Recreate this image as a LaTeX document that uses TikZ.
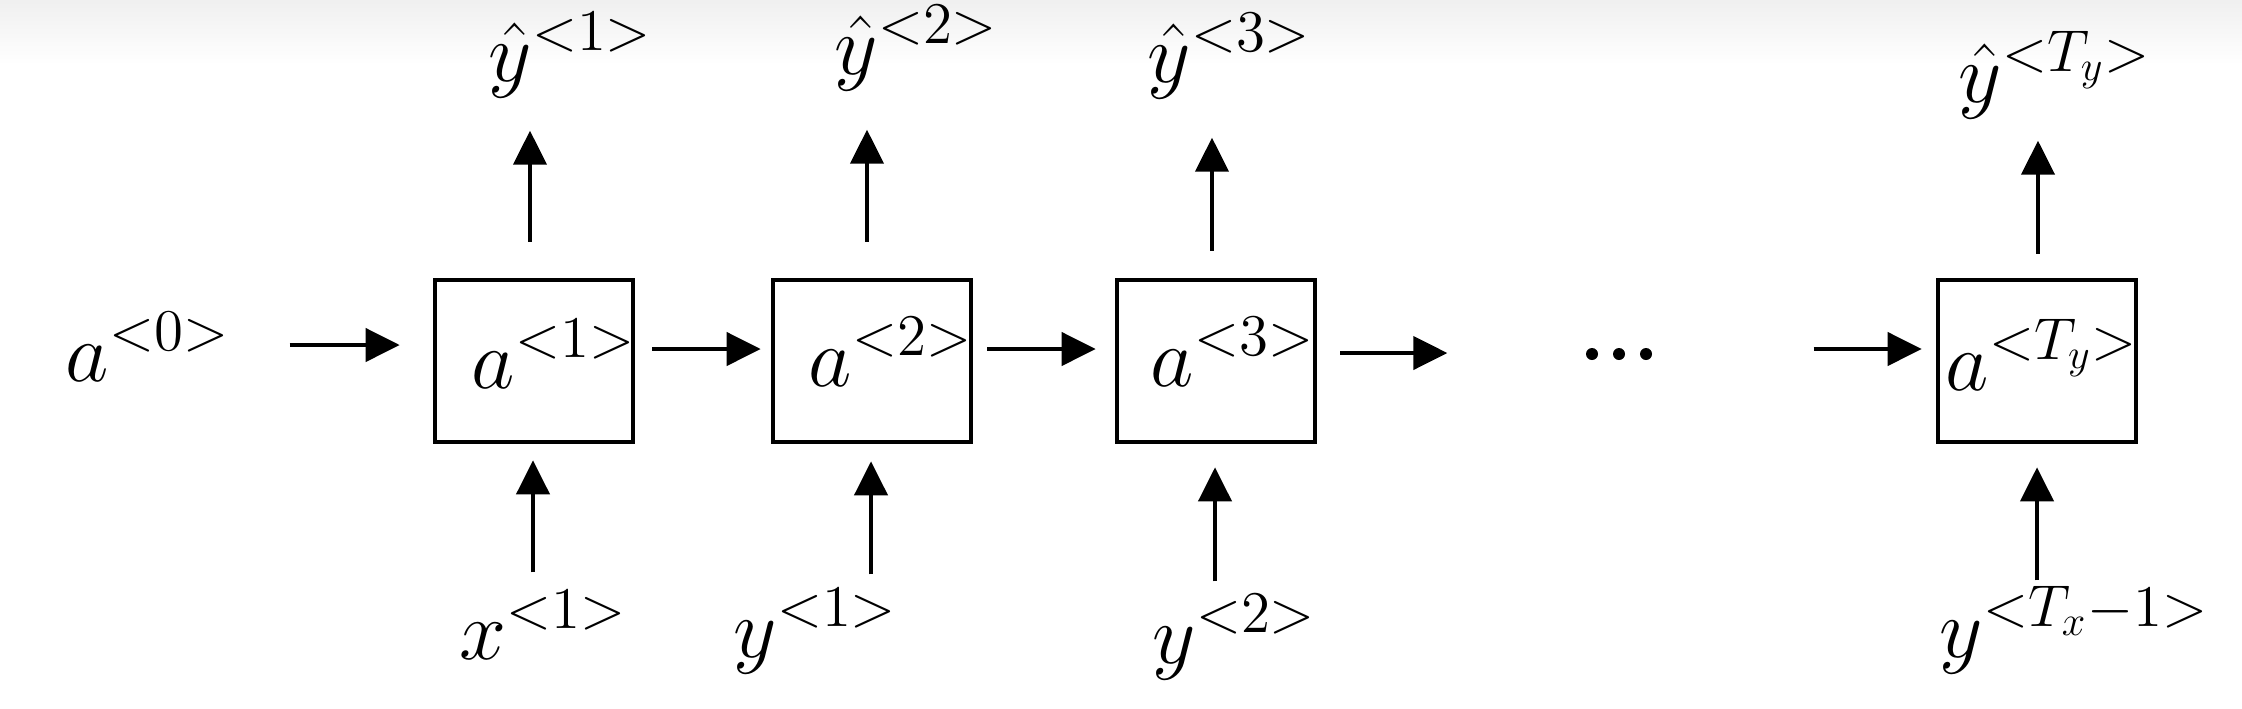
\RequirePackage{fix-cm}
\documentclass[tikz,border=0pt]{standalone}
\usetikzlibrary{arrows.meta}
\begin{document}
\begin{tikzpicture}[x=0.01cm,y=-0.01cm,
  cell/.style={draw, line width=1.3pt, minimum width=1.98cm, minimum height=1.62cm, inner sep=0pt},
  lbl/.style={font=\fontsize{24}{28}\selectfont, inner sep=0pt, anchor=base west},
  arr/.style={line width=1.2pt, -{Triangle[width=0.33cm,length=0.34cm]}},
  dotn/.style={circle, fill=black, minimum size=0.12cm, inner sep=0pt}]
\useasboundingbox (0,0) rectangle (2242,708);
\fill[white] (0,0) rectangle (2242,708);
\shade[top color=gray!12, bottom color=white] (0,0) rectangle (2242,65);
% boxes
\node[cell] (b1) at (534,361) {};
\node[cell] (b2) at (872,361) {};
\node[cell] (b3) at (1216,361) {};
\node[cell] (b4) at (2037,361) {};
% texts
\node[lbl] (a0) at (65,381) {$a^{<0>}$};
\node[lbl] (t1) at (471,388) {$a^{<1>}$};
\node[lbl] (t2) at (808,386) {$a^{<2>}$};
\node[lbl] (t3) at (1150,386) {$a^{<3>}$};
\node[lbl] (t4) at (1945,390) {$a^{<T_y>}$};
\node[lbl] (o1) at (488,81) {$\hat{y}^{<1>}$};
\node[lbl] (o2) at (834,74) {$\hat{y}^{<2>}$};
\node[lbl] (o3) at (1147,82) {$\hat{y}^{<3>}$};
\node[lbl] (o4) at (1958,102) {$\hat{y}^{<T_y>}$};
\node[lbl] (i1) at (459,659) {$x^{<1>}$};
\node[lbl] (i2) at (733,657) {$y^{<1>}$};
\node[lbl] (i3) at (1152,663) {$y^{<2>}$};
\node[lbl] (i4) at (1939,657) {$y^{<T_x-1>}$};
% dots
\node[dotn] (d1) at (1592,354) {};
\node[dotn] (d2) at (1619,354) {};
\node[dotn] (d3) at (1646,354) {};
% up arrows to outputs
\draw[arr] ([shift={(-4,-36)}]b1.north) -- ([shift={(-4,-147)}]b1.north);
\draw[arr] ([shift={(-5,-36)}]b2.north) -- ([shift={(-5,-148)}]b2.north);
\draw[arr] ([shift={(-4,-27)}]b3.north) -- ([shift={(-4,-140)}]b3.north);
\draw[arr] ([shift={(1,-24)}]b4.north) -- ([shift={(1,-137)}]b4.north);
% inputs from below
\draw[arr] ([shift={(-1,128)}]b1.south) -- ([shift={(-1,16)}]b1.south);
\draw[arr] ([shift={(-1,130)}]b2.south) -- ([shift={(-1,17)}]b2.south);
\draw[arr] ([shift={(-1,137)}]b3.south) -- ([shift={(-1,23)}]b3.south);
\draw[arr] ([shift={(0,136)}]b4.south) -- ([shift={(0,23)}]b4.south);
% horizontal
\draw[arr] ([shift={(-143,-16)}]b1.west) -- ([shift={(-33,-16)}]b1.west);
\draw[arr] ([shift={(17,-12)}]b1.east) -- ([shift={(-10,-12)}]b2.west);
\draw[arr] ([shift={(14,-12)}]b2.east) -- ([shift={(-19,-12)}]b3.west);
\draw[arr] ([shift={(23,-8)}]b3.east) -- ([shift={(130,-8)}]b3.east);
\draw[arr] ([shift={(-122,-12)}]b4.west) -- ([shift={(-14,-12)}]b4.west);
\end{tikzpicture}
\end{document}
